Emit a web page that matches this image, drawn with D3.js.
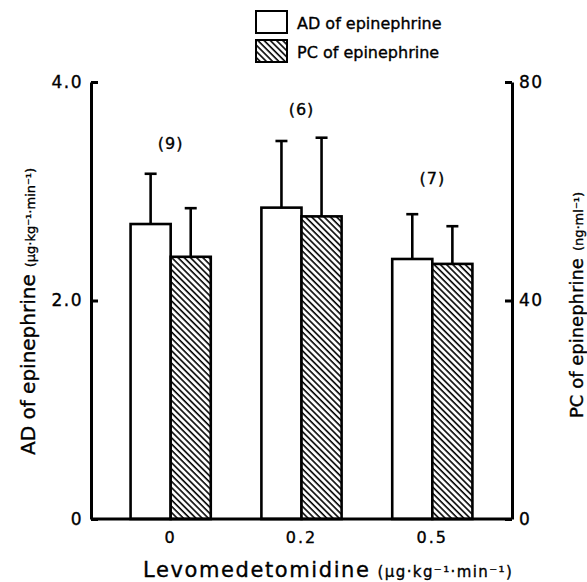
<!DOCTYPE html>
<html>
<head>
<meta charset="utf-8">
<script src="https://cdn.jsdelivr.net/npm/d3@7"></script>
<style>
	body { margin: 0; background: #fff; }
	text { font-family: "DejaVu Sans", sans-serif; fill: #000; stroke: #000; stroke-width: 0.35px; }
</style>
</head>
<body>
<script>
// values
var categories = ["0", "0.2", "0.5"]
var adMean = [2.70, 2.85, 2.38]
var adSD = [0.46, 0.61, 0.41]
var pcMean = [48.0, 55.4, 46.7]
var pcSD = [8.9, 14.4, 6.9]
var nLabels = ["(9)", "(6)", "(7)"]
var nLabelLevel = [3.44, 3.75, 3.12]   // in AD units
var leftTicks = [0, 2, 4]
var rightTicks = [0, 40, 80]
var seriesNames = ["AD of epinephrine", "PC of epinephrine"]

var width = 587, height = 582
var margin = { left: 91, right: 75, top: 82, bottom: 63 }

var svg = d3.select("body").append("svg")
	.attr("width", width)
	.attr("height", height)

var defs = svg.append("defs")
var pat = defs.append("pattern")
	.attr("id", "hatch")
	.attr("patternUnits", "userSpaceOnUse")
	.attr("width", 4.4)
	.attr("height", 4.4)
	.attr("patternTransform", "rotate(-45)")
pat.append("rect").attr("width", 4.4).attr("height", 4.4).attr("fill", "#fff")
pat.append("line")
	.attr("x1", 1).attr("y1", 0).attr("x2", 1).attr("y2", 4.4)
	.attr("stroke", "#000").attr("stroke-width", 1.6)

var x0 = d3.scaleBand()
	.domain(categories)
	.range([margin.left, width - margin.right])
	.paddingInner(0.387)
	.paddingOuter(0.3025)
var x1 = d3.scaleBand()
	.domain([0, 1])
	.range([0, x0.bandwidth()])
var yLeft = d3.scaleLinear().domain([0, 4]).range([height - margin.bottom, margin.top])
var yRight = d3.scaleLinear().domain([0, 80]).range([height - margin.bottom, margin.top])

var rows = categories.map((c, i) => [
	{ cat: c, k: 0, v: adMean[i], sd: adSD[i], y: yLeft },
	{ cat: c, k: 1, v: pcMean[i], sd: pcSD[i], y: yRight }
])

var groups = svg.selectAll("g.grp")
	.data(rows)
	.enter()
	.append("g")
		.attr("class", "grp")
		.attr("transform", (d, i) => "translate(" + x0(categories[i]) + ",0)")

// error bars first so the bar outline sits on top
groups.selectAll("g.err")
	.data((d) => d)
	.enter()
	.append("g")
		.attr("class", "err")
		.each(function (d) {
			var g = d3.select(this)
			var cx = x1(d.k) + x1.bandwidth() / 2
			g.append("line")
				.attr("x1", cx).attr("x2", cx)
				.attr("y1", d.y(d.v)).attr("y2", d.y(d.v + d.sd))
				.attr("stroke", "#000").attr("stroke-width", 2.6)
			g.append("line")
				.attr("x1", cx - 6).attr("x2", cx + 6)
				.attr("y1", d.y(d.v + d.sd)).attr("y2", d.y(d.v + d.sd))
				.attr("stroke", "#000").attr("stroke-width", 2.6)
		})

groups.selectAll("rect.bar")
	.data((d) => d)
	.enter()
	.append("rect")
		.attr("class", "bar")
		.attr("x", (d) => x1(d.k))
		.attr("width", x1.bandwidth())
		.attr("y", (d) => d.y(d.v))
		.attr("height", (d) => d.y(0) - d.y(d.v))
		.attr("fill", (d) => d.k == 0 ? "#fff" : "url(#hatch)")
		.attr("stroke", "#000")
		.attr("stroke-width", 2.6)

svg.selectAll("text.n")
	.data(nLabels)
	.enter()
	.append("text")
		.attr("class", "n")
		.attr("x", (d, i) => x0(categories[i]) + x0.bandwidth() / 2)
		.attr("y", (d, i) => yLeft(nLabelLevel[i]))
		.attr("dy", "0.36em")
		.attr("text-anchor", "middle")
		.style("font-size", "16px")
		.style("letter-spacing", "1px")
		.text((d) => d)

// axes
var axisLeft = d3.axisLeft(yLeft)
	.tickValues(leftTicks)
	.tickFormat((d) => d == 0 ? "0" : d.toFixed(1))
	.tickSize(-7).tickSizeOuter(0).tickPadding(8)
var axisRight = d3.axisRight(yRight)
	.tickValues(rightTicks)
	.tickSize(-7).tickSizeOuter(0).tickPadding(7)
var axisBottom = d3.axisBottom(x0).tickSize(0).tickPadding(13)

var gl = svg.append("g").attr("transform", "translate(" + margin.left + ",0)").call(axisLeft)
var gr = svg.append("g").attr("transform", "translate(" + (width - margin.right) + ",0)").call(axisRight)
var gb = svg.append("g").attr("transform", "translate(0," + (height - margin.bottom) + ")").call(axisBottom)
gb.select(".domain").attr("d", "M" + margin.left + ",0H" + (width - margin.right))

;[gl, gr, gb].forEach((g) => {
	g.selectAll(".domain, line").attr("stroke", "#000").attr("stroke-width", 3)
	g.selectAll("text")
		.style("font-family", "DejaVu Sans")
		.style("font-size", "17px")
		.style("letter-spacing", "1.5px")
		.attr("fill", "#000")
		.attr("stroke", "#000")
		.attr("stroke-width", 0.35)
})
gb.selectAll("text").style("font-size", "16px").style("letter-spacing", "2px")

// axis titles
var leftTitle = svg.append("text")
	.attr("transform", "translate(35,455) rotate(-90)")
	.style("font-size", "20px")
leftTitle.append("tspan").text("AD of epinephrine")
leftTitle.append("tspan").attr("dx", 7).style("font-size", "13px").text("(μg·kg⁻¹·min⁻¹)")

var rightTitle = svg.append("text")
	.attr("transform", "translate(583,418) rotate(-90)")
	.style("font-size", "18px")
rightTitle.append("tspan").text("PC of epinephrine")
rightTitle.append("tspan").attr("dx", 7).style("font-size", "13px").text("(ng·ml⁻¹)")

var xTitle = svg.append("text")
	.attr("x", 143)
	.attr("y", 577)
	.style("font-size", "21px")
xTitle.append("tspan").style("letter-spacing", "1.6px").text("Levomedetomidine")
xTitle.append("tspan").attr("dx", 7).style("font-size", "15px").style("letter-spacing", "1.4px").text("(μg·kg⁻¹·min⁻¹)")

// legend
var legend = svg.selectAll("g.legend")
	.data(seriesNames)
	.enter()
	.append("g")
		.attr("class", "legend")
		.attr("transform", (d, i) => "translate(256," + (11 + i * 29) + ")")
legend.append("rect")
	.attr("width", 31).attr("height", 22)
	.attr("fill", (d, i) => i == 0 ? "#fff" : "url(#hatch)")
	.attr("stroke", "#000").attr("stroke-width", 2)
legend.append("text")
	.attr("x", 41).attr("y", 18)
	.style("font-size", "16px")
	.text((d) => d)
</script>
</body>
</html>
